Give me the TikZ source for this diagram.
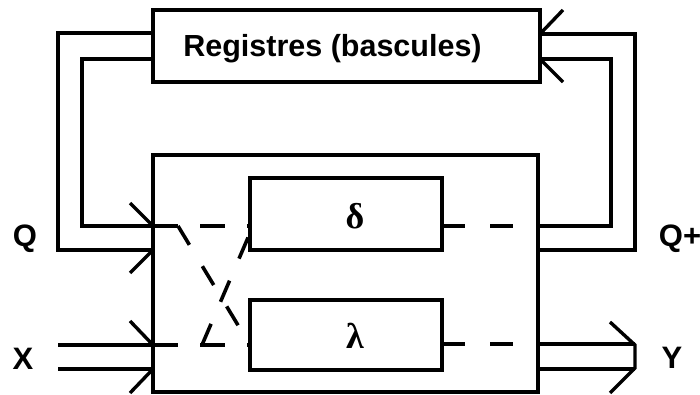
\documentclass[tikz,border=0pt]{standalone}
\usepackage{fontspec}
\setmainfont{Liberation Sans}
\newfontfamily\grk{Liberation Serif}
\begin{document}
\begin{tikzpicture}[x=1pt,y=-1pt,
  box/.style={draw,line width=3.4pt,inner sep=0pt,minimum width=#1},
  wire/.style={line width=3.4pt,line join=miter},
  dsh/.style={line width=3.6pt,dash pattern=#1},
  lbl/.style={font=\bfseries\fontsize{31}{31}\selectfont,inner sep=0pt,anchor=base},
  grl/.style={font=\grk\bfseries\fontsize{36}{36}\selectfont,inner sep=0pt,anchor=base}]
\useasboundingbox (0,0) rectangle (700,395);
% boxes
\node[box=387pt,minimum height=72pt] (reg) at (346.5,46) {};
\node[inner sep=0pt,anchor=base,font=\bfseries\fontsize{30.5}{30.5}\selectfont] (regt) at (332.5,57) {Registres (bascules)};
\node[box=385pt,minimum height=237pt] (main) at (345.5,273.5) {};
\node[box=192pt,minimum height=72pt] (delta) at (346,214) {};
\node[box=192pt,minimum height=70pt] (lambda) at (346,335) {};
\node[grl] (dl) at (355,228) {δ};
\node[grl] (lm) at (355,348) {λ};
% labels
\node[lbl] (lq) at (25,246) {Q};
\node[lbl] (lqp) at (680,246) {Q+};
\node[lbl] (lx) at (23,369) {X};
\node[lbl] (ly) at (672,368) {Y};
% points on borders
\coordinate (rlo) at (153,33);  \coordinate (rli) at (153,59);
\coordinate (rro) at (540,34);  \coordinate (rri) at (540,59);
\coordinate (mqi) at (153,226); \coordinate (mqo) at (153,250);
\coordinate (mxi) at (153,345); \coordinate (mxo) at (153,369);
\coordinate (mri) at (538,226); \coordinate (mro) at (538,250);
\coordinate (myi) at (538,344); \coordinate (myo) at (538,369);
\coordinate (dwi) at (250,226); \coordinate (dwx) at (250,233);
\coordinate (dei) at (442,226);
\coordinate (lwi) at (250,345); \coordinate (lei) at (442,344);
\coordinate (qc) at (178,226);  \coordinate (xc) at (202,345);
% Q bus (left)
\draw[wire] (rlo) -- (58,33) -- (58,250) -- (mqo);
\draw[wire] (rli) -- (82,59) -- (82,226) -- (mqi);
\draw[wire] (130,203) -- (mqi);
\draw[wire] (mqo) -- (130,273);
% Q+ bus (right)
\draw[wire] (mro) -- (635,250) -- (635,34) -- (rro);
\draw[wire] (mri) -- (611,226) -- (611,59) -- (rri);
\draw[wire] (563,10) -- (rro);
\draw[wire] (rri) -- (563,82);
% X input
\coordinate (xo1) at (58,345); \coordinate (xo2) at (58,369);
\draw[wire] (xo1) -- (mxi);
\draw[wire] (xo2) -- (mxo);
\draw[wire] (130,321) -- (mxi);
\draw[wire] (mxo) -- (130,393);
% Y output
\draw[wire] (myi) -- (635,344);
\draw[wire] (myo) -- (635,369);
\draw[wire] (610,322) -- (635,345) -- (635,368) -- (610,393);
% dashed internal paths
\draw[dsh={on 25pt off 22pt}] (mqi) -- (dwi);
\draw[dsh={on 22pt off 25pt}] (qc) -- (lwi);
\draw[dsh={on 25pt off 22pt}] (mxi) -- (lwi);
\draw[dsh={on 23pt off 24pt}] (xc) -- (dwx);
\draw[dsh={on 23pt off 25pt}] (dei) -- (mri);
\draw[dsh={on 23pt off 25pt}] (lei) -- (myi);
\end{tikzpicture}
\end{document}
